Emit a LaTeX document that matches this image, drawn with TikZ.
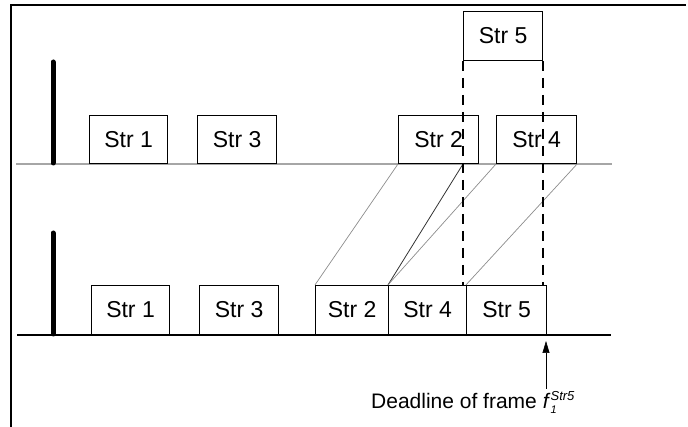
\documentclass[tikz,border=0pt]{standalone}
\usepackage{fontspec}
\setmainfont{Liberation Sans}
\usetikzlibrary{arrows.meta}
\begin{document}
\begin{tikzpicture}[x=1pt,y=-1pt,
  box/.style={draw=black,line width=1.1pt,fill=white,inner sep=0pt,anchor=south west,
    minimum height=48pt,font=\fontsize{23}{26}\selectfont},
  conn/.style={draw=black!45,line width=0.7pt},
  guide/.style={draw=black,line width=1.4pt,dash pattern=on 10pt off 7pt},
  bar/.style={line width=5pt,line cap=round},
  frameline/.style={line width=1.4pt}]
\useasboundingbox (0,0) rectangle (688,427);
% frame
\draw[frameline] (10,5) -- (686,5);
\draw[frameline] (11,5) -- (11,427);
% timelines
\draw[line width=1.3pt,black!35] (16,164) -- (612,164);
\draw[line width=1.3pt,black] (17,335) -- (611,335);
% bars
\draw[bar] (53,62) -- (53,163);
\draw[bar] (53,233) -- (53,334);
% top row
\node[box,minimum width=78pt] (t1) at (89,164) {Str 1};
\node[box,minimum width=79pt] (t3) at (197,164) {Str 3};
\node[box,minimum width=80pt] (t2) at (398,164) {Str 2};
\node[box,minimum width=80pt] (t4) at (496,164) {Str 4};
\node[box,minimum width=79pt,minimum height=49pt] (t5) at (463,61) {Str 5};
% bottom row
\node[box,minimum width=78pt,minimum height=49pt] (b1) at (91,335) {Str 1};
\node[box,minimum width=79pt,minimum height=49pt] (b3) at (199,335) {Str 3};
\node[box,minimum width=73pt,minimum height=49pt] (b2) at (315,335) {Str 2};
\node[box,minimum width=78pt,minimum height=49pt] (b4) at (388,335) {Str 4};
\node[box,minimum width=80pt,minimum height=49pt] (b5) at (466,335) {Str 5};
% connectors
\coordinate (s2end) at (t5.south west |- t2.south);
\draw[conn] (t2.south west) -- (b2.north west);
\draw[line width=0.8pt,black!80] (s2end) -- (b4.north west);
\draw[conn] (t4.south west) -- (b4.north west);
\draw[conn] (t4.south east) -- (b5.north west);
% dashed guides
\draw[guide] (t5.south west) -- (t5.south west |- b5.north);
\draw[guide] (t5.south east) -- (t5.south east |- b5.north);
% deadline arrow
\coordinate (dl) at (546,389);
\coordinate (dltip) at (546,341);
\draw[line width=0.6pt,-{Triangle[width=7pt,length=12pt]}] (dl) -- (dltip);
\node[anchor=base west,inner sep=0pt,font=\fontsize{21}{24}\selectfont] (dtext) at (371,409)
  {Deadline of frame {\itshape f}\kern2pt\rlap{\raisebox{-5pt}{\fontsize{11}{11}\selectfont\itshape 1}}\raisebox{9pt}{\fontsize{13}{13}\selectfont\itshape Str5}};
\end{tikzpicture}
\end{document}
